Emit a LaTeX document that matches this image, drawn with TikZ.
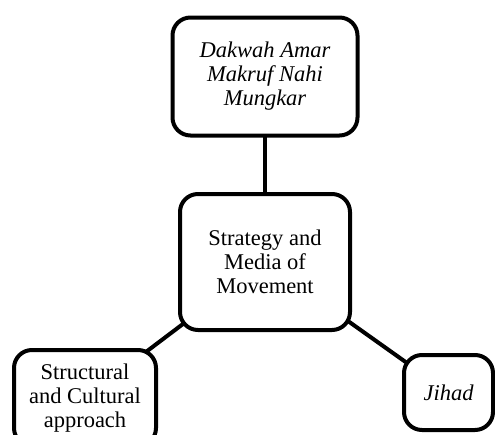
\documentclass[tikz,border=0pt]{standalone}
\usepackage{fontspec}
\setmainfont{Liberation Serif}
\usetikzlibrary{backgrounds}
\begin{document}
\begin{tikzpicture}[x=1pt, y=-1pt, line cap=round, line join=round]
	% Box style with thick rounded border
	\tikzset{
		boxnode/.style={draw=black, line width=4pt, rounded corners=18pt, fill=white,
			align=center, inner sep=2pt, font=\fontsize{22.5}{24}\selectfont},
		linkline/.style={draw=black, line width=4pt}
	}
	
	% Fix bounding box to the reference size
	\useasboundingbox (0,0) rectangle (495,434);
	
	% Central node and the three branches
	\node[boxnode, minimum width=170pt, minimum height=136pt] (strategy) at (265,262)
		{Strategy and\\Media of\\Movement};
	\node[boxnode, minimum width=185pt, minimum height=118pt] (dakwah) at (265,76.5)
		{\itshape Dakwah Amar\\\itshape Makruf Nahi\\\itshape Mungkar};
	\node[boxnode, minimum width=142pt, minimum height=96pt] (approach) at (85,398)
		{Structural\\and Cultural\\approach};
	\node[boxnode, minimum width=89pt, minimum height=75pt] (jihad) at (448.5,392.5)
		{\itshape Jihad};
	
	% Connectors drawn behind the boxes
	\begin{scope}[on background layer]
		\draw[linkline] (strategy.center) -- (dakwah.center);
		\draw[linkline] (strategy.center) -- (approach.center);
		\draw[linkline] (strategy.center) -- (jihad.center);
	\end{scope}
\end{tikzpicture}
\end{document}
